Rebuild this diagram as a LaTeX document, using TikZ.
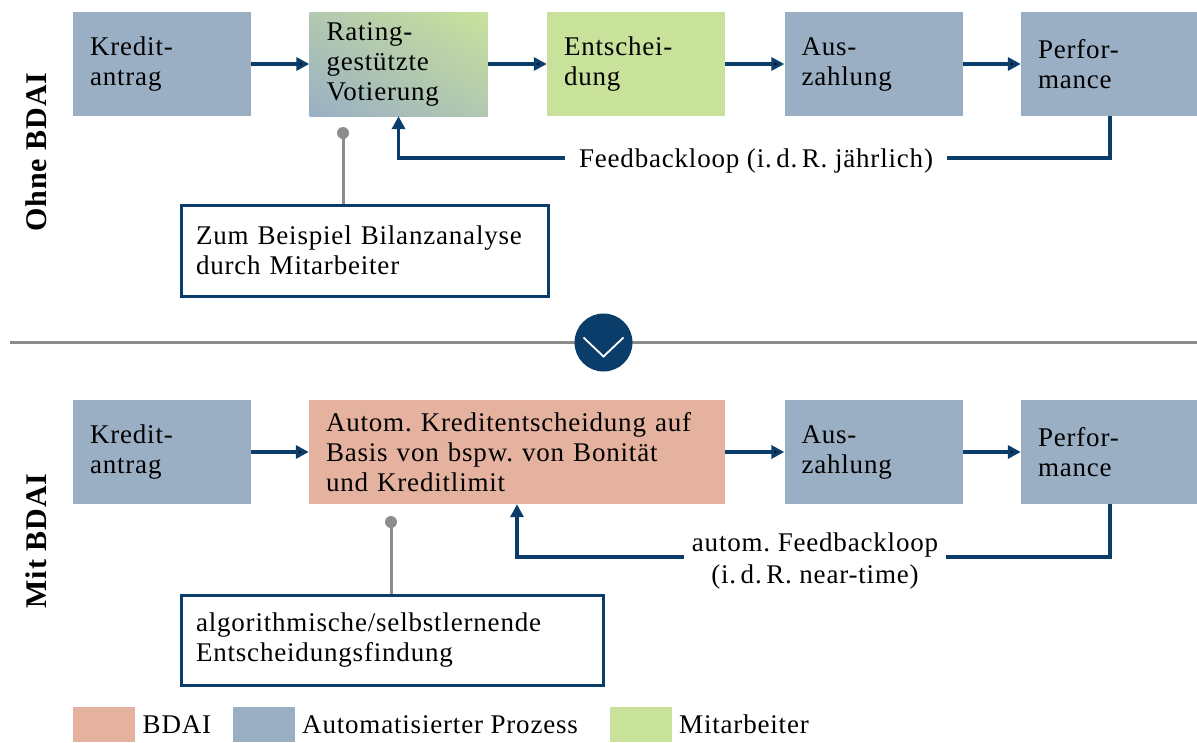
\documentclass[tikz,border=0pt]{standalone}
\usepackage{fontspec}
\setmainfont[LetterSpace=3]{Liberation Serif}
\frenchspacing
\usetikzlibrary{
        arrows.meta,
        positioning,
        shadings,
        shapes
    }
\definecolor{procblue}{HTML}{9AAFC4}
\definecolor{staffgreen}{HTML}{C9E29B}
\definecolor{bdaired}{HTML}{E5B2A0}
\definecolor{navy}{HTML}{0B3D6B}
\definecolor{pingray}{HTML}{8C8C8C}
\tikzset{>={Triangle[length=13pt,width=13pt]},x=1pt,y=-1pt}
\tikzset{
    stage/.style={minimum width=178pt,minimum height=104pt,inner xsep=17pt,
        text width=144pt,align=left,font=\fontsize{27}{30}\selectfont},
    procbox/.style={stage,fill=procblue},
    staffbox/.style={stage,fill=staffgreen},
    notebox/.style={draw=navy,line width=3pt,fill=white,inner xsep=15pt,
        align=left,font=\fontsize{27}{30}\selectfont},
    flowline/.style={draw=navy,line width=3.5pt},
    flowarrow/.style={flowline,->},
    pinline/.style={draw=pingray,line width=3pt},
    rowlabel/.style={rotate=90,font=\fontsize{30}{32}\bfseries},
    swatch/.style={minimum width=62pt,minimum height=35pt,inner sep=0pt},
    legtext/.style={anchor=west,font=\fontsize{27}{30}\selectfont}
}

\begin{document}
\begin{tikzpicture}
    \useasboundingbox (0,0) rectangle (1197,742);
    % ohne BDAI
    \node[rowlabel] (ohne) at (36,152) {Ohne BDAI};
    \node[procbox]  (antrag1) at (162,64)    {Kredit-\\antrag};
    \node[stage,upper right=staffgreen,lower left=procblue,
          upper left=procblue!50!staffgreen,lower right=procblue!50!staffgreen]
                    (rate)    at (398.5,64)  {Rating-\\gestützte\\Votierung};
    \node[staffbox] (entsch)  at (636,64)    {Entschei-\\dung};
    \node[procbox]  (zahl1)   at (873.5,64)  {Aus-\\zahlung};
    \node[procbox]  (perf1)   at (1110,64)   {Perfor-\\mance};
    \path[flowarrow]
            (antrag1) edge (rate)
            (rate)    edge (entsch)
            (entsch)  edge (zahl1)
            (zahl1)   edge (perf1);
    \node[font=\fontsize{27}{30}\selectfont,inner xsep=14pt] (fbl1) at (756,161) {Feedbackloop (i.\,d.\,R. jährlich)};
    \draw[flowline] (perf1.south) |- (fbl1.east |- 0,158);
    \draw[flowarrow] (fbl1.west |- 0,158) -| (rate.south);
    \node[notebox,minimum width=367pt,minimum height=91pt,text width=337pt] (note1) at (364.5,250.5) {Zum Beispiel Bilanzanalyse\\durch Mitarbeiter};
    \coordinate (pin1) at (343,133);
    \draw[pinline] (pin1) -- (pin1 |- note1.north);
    \fill[pingray] (pin1) circle (6pt);

    % trenner
    \coordinate (sepl) at (10,342);
    \coordinate (sepr) at (1197,342);
    \draw[pinline] (sepl) -- (sepr);
    \node[circle,fill=navy,minimum size=58pt] (turn) at (603.5,342.5) {};
    \draw[white,line width=1.8pt] ([shift={(-20,-5)}]turn.center) -- ([shift={(0,14)}]turn.center) -- ([shift={(20,-5)}]turn.center);

    % mit BDAI
    \node[rowlabel] (mit) at (36,541) {Mit BDAI};
    \node[procbox]  (antrag2) at (162,452)   {Kredit-\\antrag};
    \node[stage,fill=bdaired,minimum width=416pt,text width=382pt]
                    (auto)    at (517,452)   {Autom. Kreditentscheidung auf\\Basis von bspw. von Bonität\\und Kreditlimit};
    \node[procbox]  (zahl2)   at (873.5,452) {Aus-\\zahlung};
    \node[procbox]  (perf2)   at (1110,452)  {Perfor-\\mance};
    \path[flowarrow]
            (antrag2) edge (auto)
            (auto)    edge (zahl2)
            (zahl2)   edge (perf2);
    \node[font=\fontsize{27}{32}\selectfont,align=center,inner xsep=8pt] (fbl2) at (815,561) {autom. Feedbackloop\\(i.\,d.\,R. near-time)};
    \draw[flowline] (perf2.south) |- (fbl2.east |- 0,557);
    \draw[flowarrow] (fbl2.west |- 0,557) -| (auto.south);
    \node[notebox,minimum width=422pt,minimum height=90pt,text width=392pt] (note2) at (392,640) {algorithmische/selbstlernende\\Entscheidungsfindung};
    \coordinate (pin2) at (391,522);
    \draw[pinline] (pin2) -- (pin2 |- note2.north);
    \fill[pingray] (pin2) circle (6pt);

    % legende
    \node[swatch,fill=bdaired]    (legbdai)  at (104,724.5) {};
    \node[legtext] (legbdaitxt) [right=4pt of legbdai] {BDAI};
    \node[swatch,fill=procblue]   (legproc)  at (263.5,724.5) {};
    \node[legtext] (legproctxt) [right=4pt of legproc] {Automatisierter Prozess};
    \node[swatch,fill=staffgreen] (legstaff) at (640.5,724.5) {};
    \node[legtext] (legstafftxt) [right=4pt of legstaff] {Mitarbeiter};
\end{tikzpicture}
\end{document}
